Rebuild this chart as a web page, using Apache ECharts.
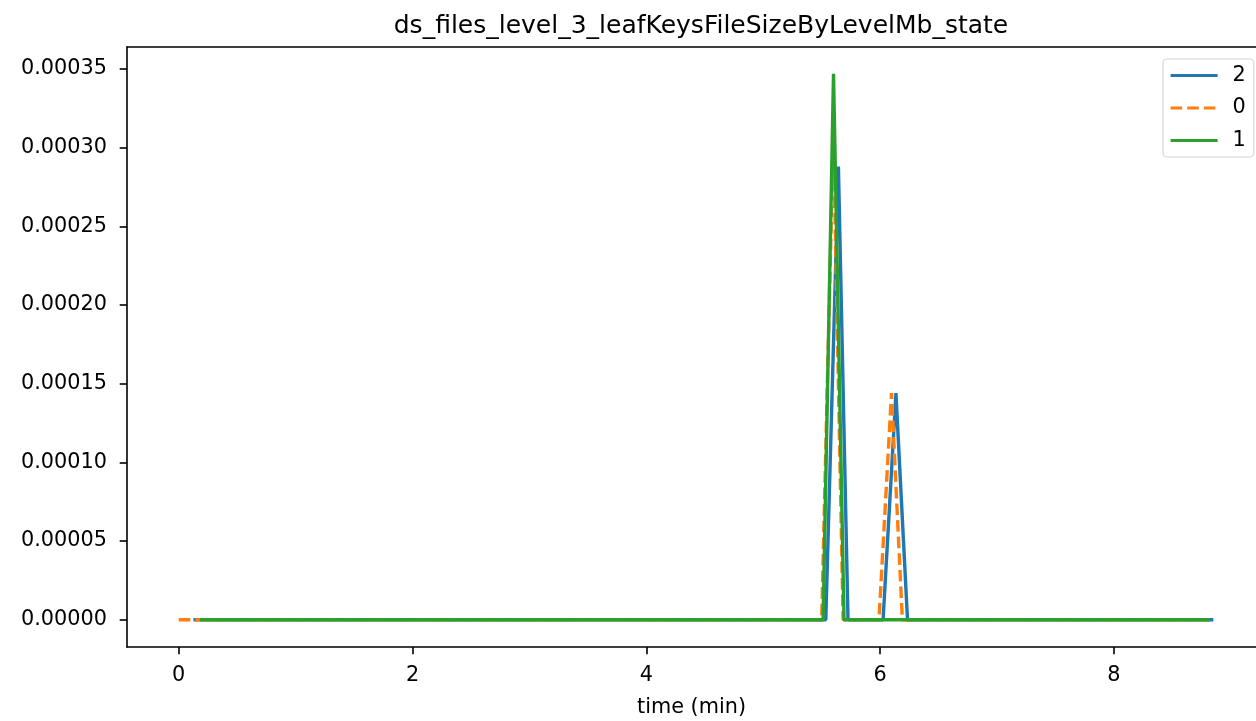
<!DOCTYPE html>
<html>
<head>
<meta charset="utf-8">
<script src="https://cdn.jsdelivr.net/npm/echarts@6/dist/echarts.min.js"></script>
<style>
html,body{margin:0;padding:0;background:#fff;}
#chart{width:1256px;height:721px;}
</style>
</head>
<body>
<div id="chart"></div>
<script>
// Data
const title = 'ds_files_level_3_leafKeysFileSizeByLevelMb_state';
const xLabel = 'time (min)';
const xTicks = [0, 2, 4, 6, 8];
const yTicks = [0, 0.00005, 0.00010, 0.00015, 0.00020, 0.00025, 0.00030, 0.00035];
const seriesNames = ['2', '0', '1'];
const time2 = [0.126, 5.535, 5.643, 5.725, 6.025, 6.135, 6.234, 8.85];
const vals2 = [0, 0, 0.000288, 0, 0, 0.000144, 0, 0];
const time0 = [0, 5.50, 5.60, 5.683, 5.99, 6.097, 6.19, 8.82];
const vals0 = [0, 0, 0.00031, 0, 0, 0.000144, 0, 0];
const time1 = [0.18, 5.512, 5.601, 5.691, 8.82];
const vals1 = [0, 0, 0.000347, 0, 0];

const zip = (t, v) => t.map((x, i) => [x, v[i]]);
const font = 'DejaVu Sans';
const xMin = -0.4425, xMax = 9.215;
const chart = echarts.init(document.getElementById('chart'), null, {renderer: 'canvas'});
chart.setOption({
  animation: false,
  backgroundColor: '#fff',
  title: {
    text: title, left: 696, top: 9, textAlign: 'center',
    textStyle: {fontFamily: font, fontSize: 25, fontWeight: 'normal', color: '#000'}
  },
  grid: {left: 127, top: 47, right: 0, height: 600, show: false, containLabel: false, outerBoundsMode: 'none'},
  legend: {
    orient: 'vertical', left: 1163, top: 59,
    data: seriesNames,
    itemWidth: 47, itemHeight: 20, itemGap: 11.5,
    padding: [6, 8, 6, 6],
    borderColor: '#d6d6d6', borderWidth: 1.2, borderRadius: 4,
    backgroundColor: '#fff',
    itemStyle: {opacity: 0},
    lineStyle: {width: 3.2},
    textStyle: {fontFamily: font, fontSize: 20.8, color: '#000', padding: [0, 0, 0, 10]}
  },
  xAxis: [{
    type: 'value', min: xMin, max: xMax,
    name: xLabel, nameLocation: 'middle', nameGap: 50,
    nameTextStyle: {fontFamily: font, fontSize: 20.8, color: '#000'},
    axisLine: {show: true, onZero: false, lineStyle: {color: '#000', width: 1.6}},
    axisTick: {show: true, length: 7.3, customValues: xTicks, lineStyle: {color: '#000', width: 1.6}},
    axisLabel: {customValues: xTicks, margin: 18, fontFamily: font, fontSize: 20.8, color: '#000'},
    splitLine: {show: false}
  }, {
    type: 'value', position: 'top', min: xMin, max: xMax,
    axisLine: {show: true, onZero: false, lineStyle: {color: '#000', width: 1.6}},
    axisTick: {show: false}, axisLabel: {show: false}, splitLine: {show: false}
  }],
  yAxis: {
    type: 'value', min: -0.00001733, max: 0.000364,
    axisLine: {show: true, onZero: false, lineStyle: {color: '#000', width: 1.6}},
    axisTick: {show: true, length: 7.3, customValues: yTicks, lineStyle: {color: '#000', width: 1.6}},
    axisLabel: {customValues: yTicks, margin: 20, fontFamily: font, fontSize: 20.8, color: '#000',
      formatter: v => v.toFixed(5)},
    splitLine: {show: false}
  },
  series: [
    {name: seriesNames[0], type: 'line', data: zip(time2, vals2), symbol: 'none', z: 2,
      lineStyle: {color: '#1f77b4', width: 3.4}, itemStyle: {color: '#1f77b4'}},
    {name: seriesNames[1], type: 'line', data: zip(time0, vals0), symbol: 'none', z: 3,
      lineStyle: {color: '#ff7f0e', width: 3.4, type: [11.6, 5]}, itemStyle: {color: '#ff7f0e'}},
    {name: seriesNames[2], type: 'line', data: zip(time1, vals1), symbol: 'none', z: 4,
      lineStyle: {color: '#2ca02c', width: 3.4}, itemStyle: {color: '#2ca02c'}}
  ]
});
</script>
</body>
</html>
